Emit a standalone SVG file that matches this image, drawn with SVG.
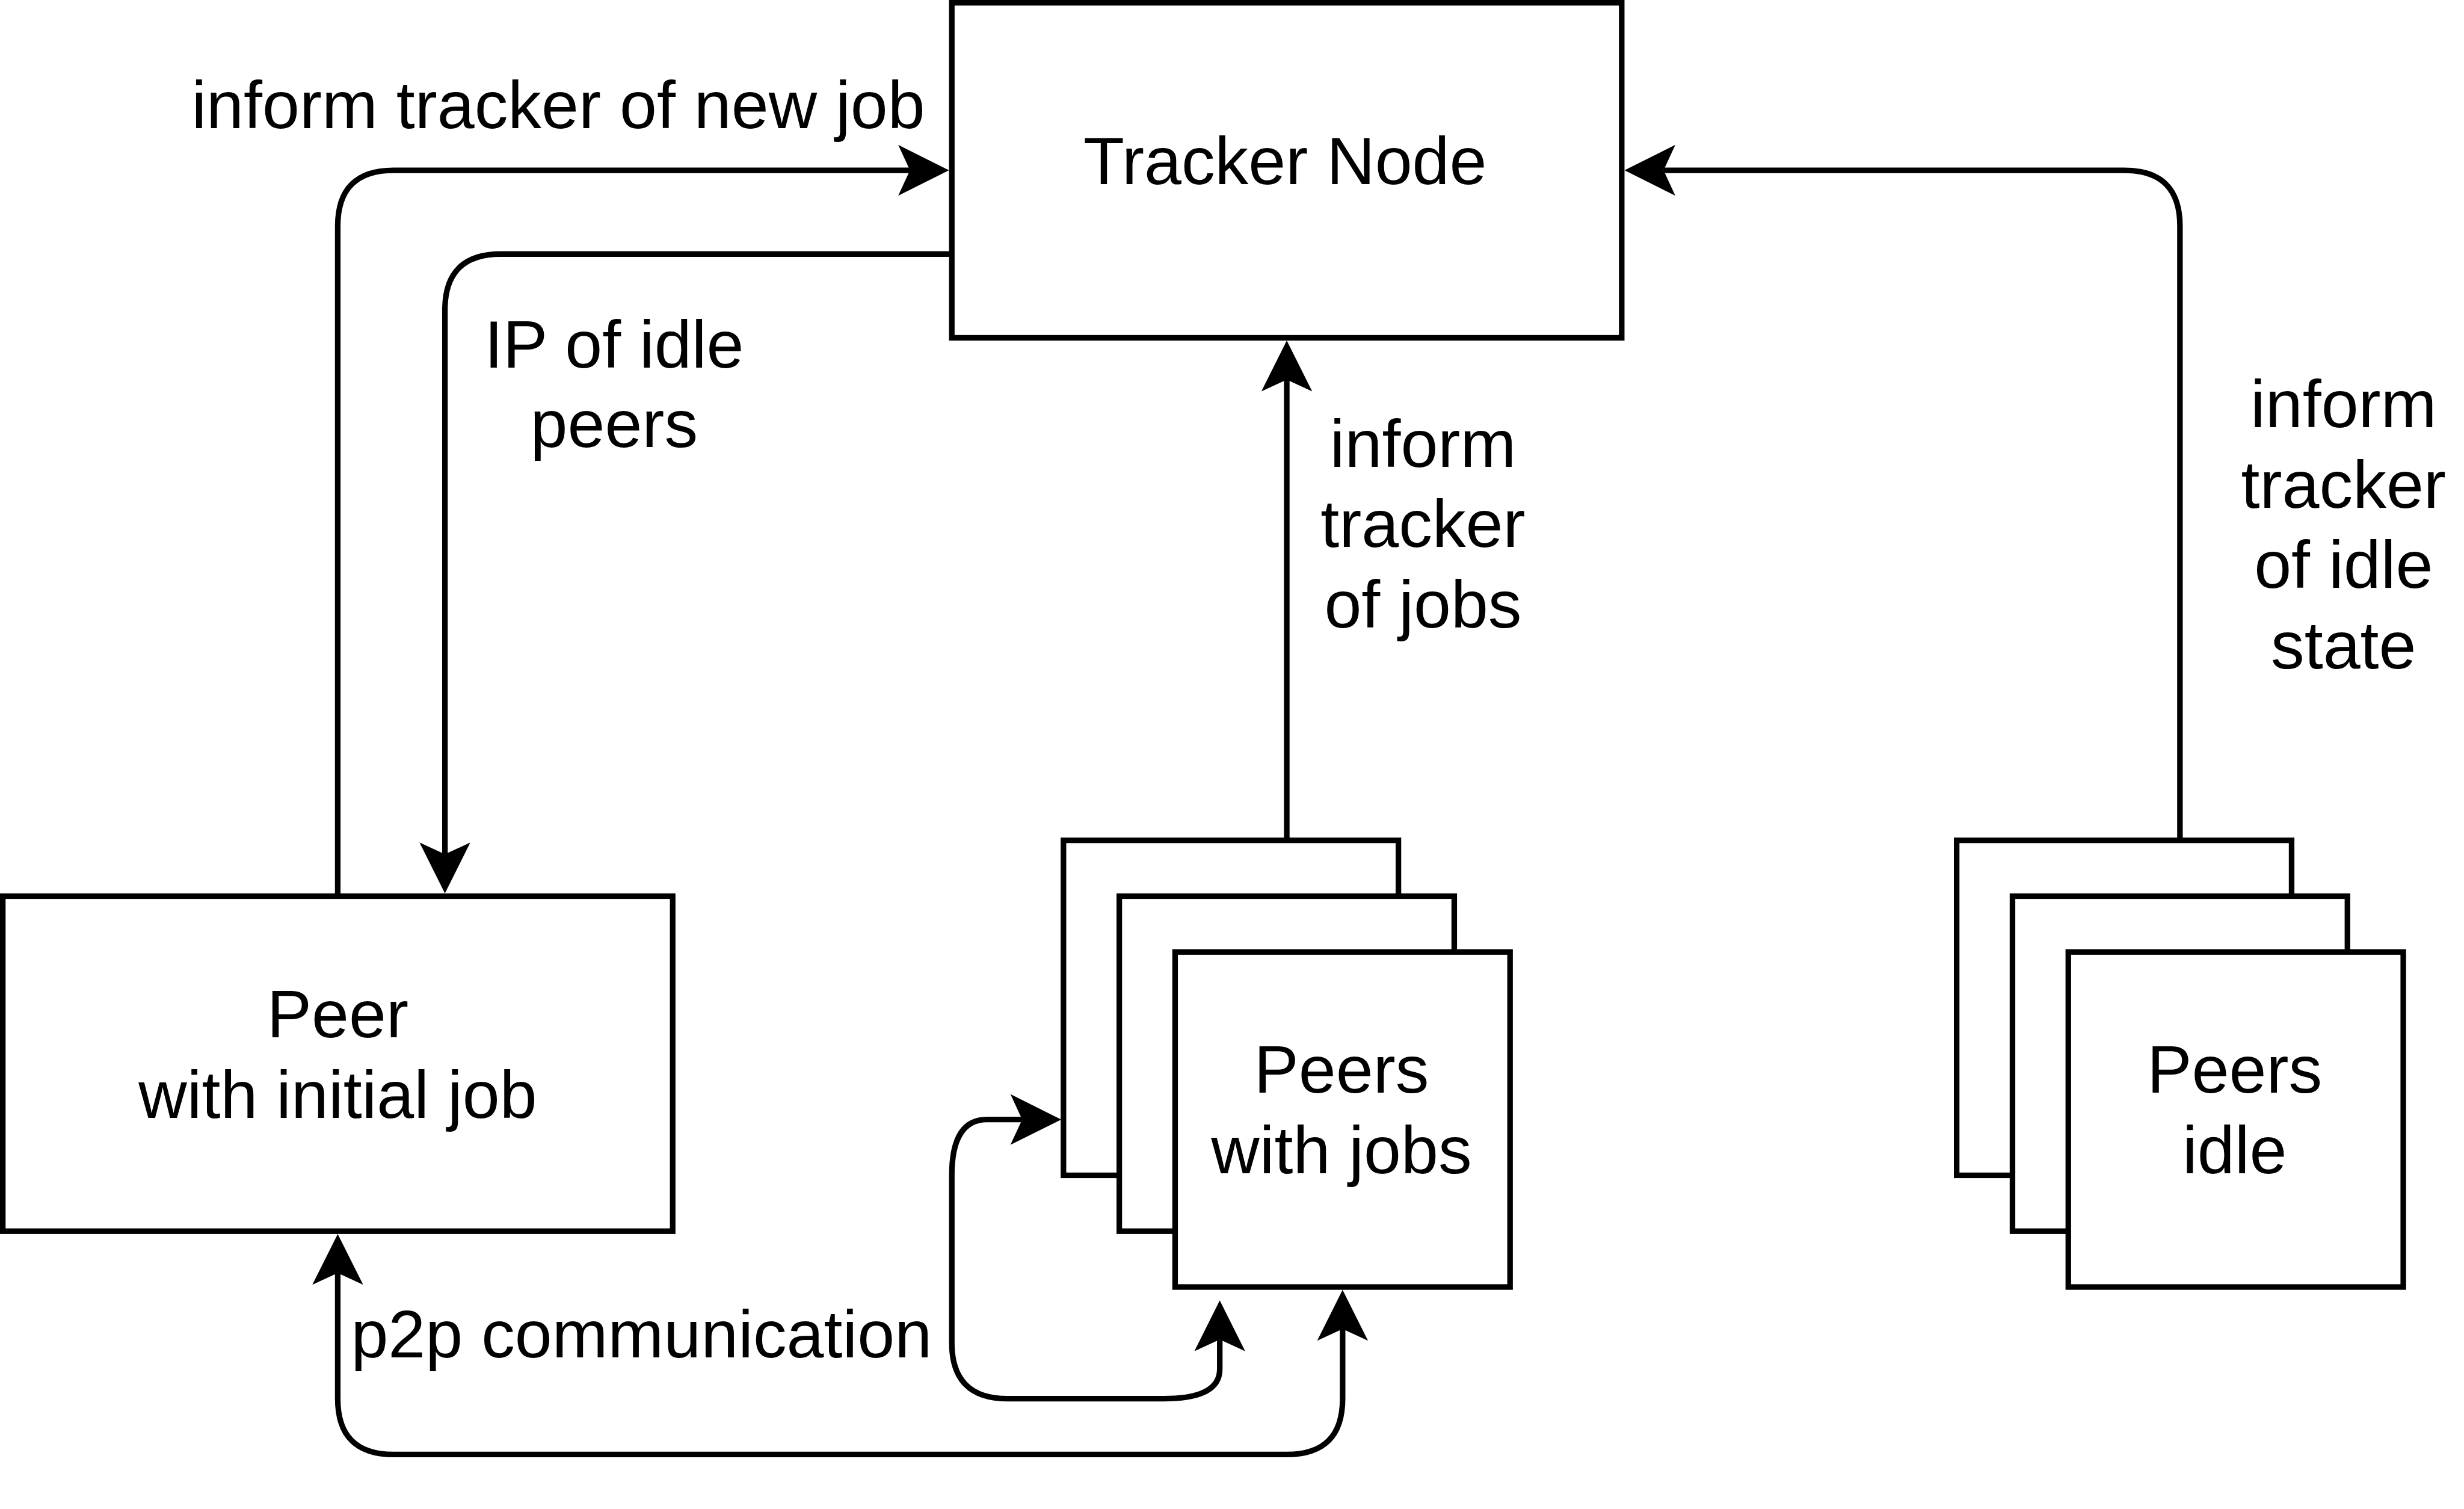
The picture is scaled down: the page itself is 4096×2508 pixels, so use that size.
<svg xmlns="http://www.w3.org/2000/svg" width="4096" height="2508" viewBox="0 0 4096 2508">
  <style>
    .box { fill: #ffffff; stroke: #000000; stroke-width: 10; }
    .edge { fill: none; stroke: #000000; stroke-width: 10; }
    .lbl { font-family: "Liberation Sans", Arial, Helvetica, sans-serif; font-size: 120px; fill: #000000; text-anchor: middle; }
  </style>
  <defs>
    <marker id="arrow" markerUnits="userSpaceOnUse" orient="auto-start-reverse" overflow="visible" markerWidth="1" markerHeight="1" refX="0" refY="0">
      <path d="M70,0 L-21,-45.5 L0,0 L-21,45.5 Z" fill="#000000" stroke="none"/>
    </marker>
  </defs>
  <rect x="0" y="0" width="4096" height="2508" fill="#ffffff"/>
  <g transform="scale(0.928)">
    <g id="connectors">
      <path class="edge" d="M605,1605 V405 Q605,305 705,305 H1630" marker-end="url(#arrow)"/>
      <path class="edge" d="M1705,455 H897 Q797,455 797,555 V1530" marker-end="url(#arrow)"/>
      <path class="edge" d="M2305,1505 V680" marker-end="url(#arrow)"/>
      <path class="edge" d="M3905,1505 V405 Q3905,305 3805,305 H2980" marker-end="url(#arrow)"/>
      <path class="edge" d="M605,2280 V2505 Q605,2605 705,2605 H2305 Q2405,2605 2405,2505 V2380" marker-start="url(#arrow)" marker-end="url(#arrow)"/>
      <path class="edge" d="M2185,2399 V2452 Q2185,2505 2085,2505 H1805 Q1705,2505 1705,2405 V2105 Q1705,2005 1768,2005 H1831" marker-start="url(#arrow)" marker-end="url(#arrow)"/>
    </g>
    <g id="edge-labels">
      <text class="lbl" x="1000" y="229">inform tracker of new job</text>
      <text class="lbl" x="1100" y="658">IP of idle</text>
      <text class="lbl" x="1100" y="801">peers</text>
      <text class="lbl" x="2549" y="836">inform</text>
      <text class="lbl" x="2549" y="980">tracker</text>
      <text class="lbl" x="2549" y="1124">of jobs</text>
      <text class="lbl" x="4198" y="765">inform</text>
      <text class="lbl" x="4198" y="909">tracker</text>
      <text class="lbl" x="4198" y="1053">of idle</text>
      <text class="lbl" x="4198" y="1197">state</text>
      <text class="lbl" x="1149" y="2431">p2p communication</text>
    </g>
    <g id="tracker-node">
      <rect class="box" x="1705" y="5" width="1200" height="600"/>
      <text class="lbl" x="2302" y="330">Tracker Node</text>
    </g>
    <g id="peer-initial">
      <rect class="box" x="5" y="1605" width="1200" height="600"/>
      <text class="lbl" x="605" y="1858">Peer</text>
      <text class="lbl" x="605" y="2002">with initial job</text>
    </g>
    <g id="peers-with-jobs">
      <rect class="box" x="1905" y="1505" width="600" height="600"/>
      <rect class="box" x="2005" y="1605" width="600" height="600"/>
      <rect class="box" x="2105" y="1705" width="600" height="600"/>
      <text class="lbl" x="2403" y="1957">Peers</text>
      <text class="lbl" x="2403" y="2101">with jobs</text>
    </g>
    <g id="peers-idle">
      <rect class="box" x="3505" y="1505" width="600" height="600"/>
      <rect class="box" x="3605" y="1605" width="600" height="600"/>
      <rect class="box" x="3705" y="1705" width="600" height="600"/>
      <text class="lbl" x="4003" y="1957">Peers</text>
      <text class="lbl" x="4003" y="2101">idle</text>
    </g>
  </g>
</svg>
